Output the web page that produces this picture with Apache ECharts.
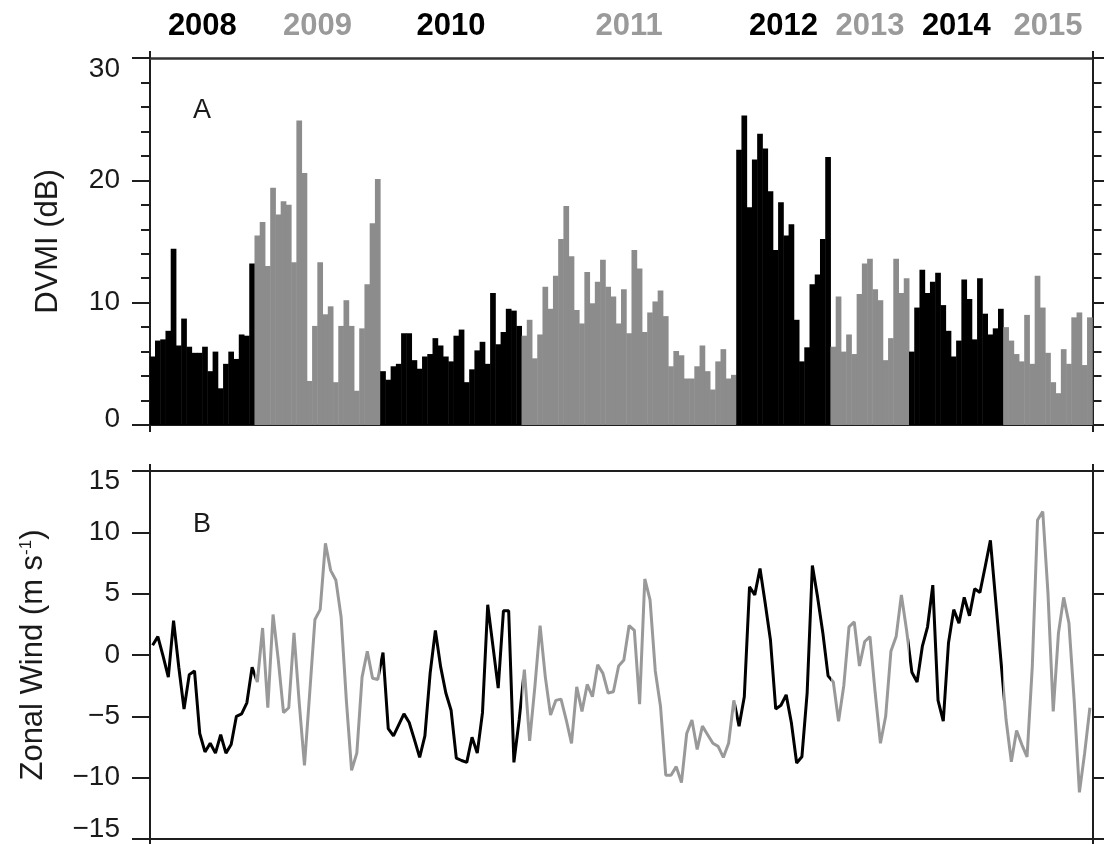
<!DOCTYPE html>
<html><head><meta charset="utf-8">
<script src="https://cdn.jsdelivr.net/npm/echarts@6.0.0/dist/echarts.min.js"></script>
<style>html,body{margin:0;padding:0;background:#fff}#c{width:1104px;height:844px}</style>
</head><body><div id="c"></div>
<script>
// ---- data ----
const years = ['2008','2009','2010','2011','2012','2013','2014','2015'];
const yearCounts = [20, 24, 27, 41, 18, 15, 18, 17];

const dvmi2008 = [5.6, 6.9, 7.0, 7.7, 14.4, 6.5, 8.7, 6.4, 5.9, 5.9, 6.4, 4.4, 6.0, 3.0, 5.0, 6.0, 5.4, 7.4, 7.3, 13.2];
const dvmi2009 = [15.5, 16.6, 13.0, 19.4, 17.2, 18.3, 18.0, 13.3, 24.9, 20.6, 3.6, 8.1, 13.3, 9.05, 9.7, 3.5, 8.1, 10.2, 8.1, 2.8, 7.9, 11.5, 16.5, 20.1];
const dvmi2010 = [4.4, 3.7, 4.8, 5.0, 7.5, 7.5, 5.3, 4.6, 5.6, 5.8, 7.1, 6.5, 5.6, 5.2, 7.3, 7.8, 3.5, 4.55, 6.1, 6.8, 5.0, 10.8, 6.6, 7.6, 9.5, 9.35, 8.1];
const dvmi2011 = [7.3, 8.6, 5.45, 7.4, 11.3, 9.5, 12.2, 15.2, 17.9, 13.8, 9.4, 8.3, 12.5, 9.95, 11.7, 13.5, 11.3, 10.5, 8.3, 11.1, 7.5, 14.3, 12.8, 7.6, 9.2, 10.1, 11.0, 8.9, 4.8, 6.05, 5.7, 3.8, 3.8, 4.8, 6.5, 4.4, 2.9, 5.2, 6.2, 3.8, 4.1];
const dvmi2012 = [22.5, 25.3, 17.8, 21.7, 23.8, 22.6, 19.1, 14.3, 18.2, 15.5, 16.4, 8.6, 5.2, 6.35, 11.5, 12.3, 15.2, 21.9];
const dvmi2013 = [6.4, 10.5, 6.0, 7.4, 5.8, 10.7, 13.2, 13.6, 11.1, 10.2, 5.3, 7.1, 13.6, 10.8, 12.0];
const dvmi2014 = [6.0, 9.6, 12.7, 10.8, 11.7, 12.45, 9.8, 7.7, 5.6, 6.9, 11.9, 10.3, 7.0, 12.0, 9.1, 7.4, 7.9, 9.5];
const dvmi2015 = [8.0, 6.9, 5.8, 5.2, 9.0, 5.0, 12.2, 9.6, 5.9, 3.5, 2.6, 6.2, 5.0, 8.8, 9.2, 4.9, 8.8];

const wind2008 = [0.8, 1.5, -0.1, -1.8, 2.8, -1.0, -4.4, -1.6, -1.3, -6.4, -7.9, -7.2, -8.0, -6.5, -8.0, -7.3, -5.0, -4.8, -3.9, -1.0];
const wind2009 = [-2.2, 2.2, -4.3, 3.3, -0.4, -4.7, -4.3, 1.8, -3.9, -9.0, -3.1, 2.9, 3.7, 9.1, 6.9, 6.1, 3.1, -3.7, -9.4, -8.0, -1.8, 0.3, -1.9, -2.0];
const wind2010 = [0.2, -6.0, -6.6, -5.7, -4.8, -5.5, -6.9, -8.35, -6.6, -1.5, 2.0, -0.95, -3.1, -4.5, -8.4, -8.6, -8.75, -6.7, -8.0, -4.7, 4.1, 0.7, -2.7, 3.6, 3.6, -8.75, -5.3];
const wind2011 = [-1.2, -7.0, -2.6, 2.4, -1.8, -4.9, -3.7, -3.6, -5.3, -7.2, -2.6, -4.6, -2.4, -3.4, -0.8, -1.5, -3.1, -3.0, -0.9, -0.4, 2.4, 2.0, -4.0, 6.2, 4.5, -1.3, -4.2, -9.8, -9.8, -9.1, -10.4, -6.4, -5.3, -7.7, -5.8, -6.5, -7.2, -7.45, -8.35, -7.2, -3.7];
const wind2012 = [-5.8, -3.4, 5.55, 4.9, 7.05, 4.2, 1.2, -4.4, -4.1, -3.25, -5.55, -8.8, -8.3, -3.1, 7.3, 4.7, 1.8, -1.7];
const wind2013 = [-2.2, -5.4, -2.5, 2.3, 2.7, -0.9, 1.1, 1.5, -3.1, -7.2, -5.0, 0.3, 1.5, 4.9, 2.0];
const wind2014 = [-1.4, -2.2, 0.7, 2.3, 5.7, -3.7, -5.4, 1.0, 3.7, 2.6, 4.7, 3.2, 5.4, 5.1, 7.2, 9.35, 4.5, -0.4];
const wind2015 = [-5.3, -8.7, -6.15, -7.3, -8.3, -0.95, 11.0, 11.7, 5.0, -4.6, 1.8, 4.7, 2.6, -3.7, -11.2, -8.0, -4.3];

const dvmiTickLabels = [0, 10, 20, 30];
const windTickLabels = [-15, -10, -5, 0, 5, 10, 15];

// ---- build ----
const dvmi = [].concat(dvmi2008, dvmi2009, dvmi2010, dvmi2011, dvmi2012, dvmi2013, dvmi2014, dvmi2015);
const wind = [].concat(wind2008, wind2009, wind2010, wind2011, wind2012, wind2013, wind2014, wind2015);
const N = dvmi.length;

const segs = [];
let s0 = 0;
yearCounts.forEach((n, k) => { segs.push({ year: years[k], start: s0, end: s0 + n, center: s0 + (n - 1) / 2, k }); s0 += n; });

const BLACK = '#000000', BAR_GRAY = '#8c8c8c', LINE_GRAY = '#999999', TXT_GRAY = '#9a9a9a';
const FONT = '"Liberation Sans", Arial, Helvetica, sans-serif';
const AX = '#1e1e1e';
const XMIN = -0.5, XMAX = N - 0.5;

function fmtNum(v) { return v < 0 ? '\u2212' + (-v) : String(v); }

function xAx(grid, pos, withYears) {
  const ax = {
    type: 'value', gridIndex: grid, position: pos, min: XMIN, max: XMAX,
    axisLine: { show: true, onZero: false, lineStyle: { color: AX, width: 2 } },
    axisTick: { show: true, customValues: [XMIN, XMAX], length: 7, lineStyle: { color: AX, width: 2 } },
    axisLabel: { show: false },
    splitLine: { show: false }
  };
  if (withYears) {
    ax.axisLine.lineStyle = { color: '#333', width: 2.5 };
    ax.axisLabel = {
      show: true, customValues: segs.map(g => g.center), margin: 16,
      formatter: v => { const g = segs.find(q => Math.abs(q.center - v) < 1e-6); return g ? '{y' + (g.k % 2) + '|' + g.year + '}' : ''; },
      rich: {
        y0: { color: '#000', fontWeight: 'bold', fontSize: 31, fontFamily: FONT },
        y1: { color: TXT_GRAY, fontWeight: 'bold', fontSize: 31, fontFamily: FONT }
      }
    };
  }
  return ax;
}

function yAx(grid, pos, ticks, name, gap, minorSplit, shiftHi, shiftLo) {
  const min = ticks[0], max = ticks[ticks.length - 1], step = ticks[1] - ticks[0];
  const base = { fontSize: 28, fontFamily: FONT, color: '#1a1a1a' };
  return {
    type: 'value', gridIndex: grid, position: pos, min, max, interval: step,
    axisLine: { show: true, onZero: false, lineStyle: { color: AX, width: 2 } },
    axisTick: { show: true, length: 18, lineStyle: { color: AX, width: 2 } },
    minorTick: minorSplit ? { show: true, splitNumber: minorSplit, length: 9, lineStyle: { color: AX, width: 2 } } : { show: false },
    splitLine: { show: false }, minorSplitLine: { show: false },
    axisLabel: pos === 'left' ? {
      show: true, margin: 30, ...base,
      formatter: v => v === max ? '{hi|' + fmtNum(v) + '}' : (v === min ? '{lo|' + fmtNum(v) + '}' : fmtNum(v)),
      rich: { hi: { ...base, padding: [shiftHi, 0, 0, 0] }, lo: { ...base, padding: [0, 0, shiftLo, 0] } }
    } : { show: false },
    name: pos === 'left' ? name : '', nameLocation: 'middle', nameGap: gap,
    nameTextStyle: { fontSize: 31, fontFamily: FONT, color: '#1a1a1a',
      rich: { sup: { fontSize: 17, fontFamily: FONT, color: '#1a1a1a', verticalAlign: 'top', padding: [0, 0, 14, 0] } } }
  };
}

const chart = echarts.init(document.getElementById('c'), null, { renderer: 'canvas' });
chart.setOption({
  animation: false,
  backgroundColor: '#fff',
  grid: [
    { left: 150, right: 11.5, top: 58, height: 367, containLabel: false },
    { left: 150, right: 11.5, top: 471, height: 368, containLabel: false }
  ],
  xAxis: [xAx(0, 'bottom', false), xAx(0, 'top', true), xAx(1, 'bottom', false), xAx(1, 'top', false)],
  yAxis: [
    yAx(0, 'left', dvmiTickLabels, 'DVMI (dB)', 86, 5, 22, 12),
    yAx(0, 'right', dvmiTickLabels, '', 0, 5, 0, 0),
    yAx(1, 'left', windTickLabels, 'Zonal Wind (m s{sup|-1})', 101, 0, 20, 20),
    yAx(1, 'right', windTickLabels, '', 0, 0, 0, 0)
  ],
  visualMap: [
    { type: 'piecewise', show: false, seriesIndex: 0, dimension: 0,
      pieces: segs.map(g => ({ gte: g.start - 0.5, lt: g.end - 0.5, color: g.k % 2 ? BAR_GRAY : BLACK })) },
    { type: 'piecewise', show: false, seriesIndex: 1, dimension: 0,
      pieces: segs.map(g => ({ gte: g.start - 0.5, lt: g.end - 0.5, color: g.k % 2 ? LINE_GRAY : BLACK })) }
  ],
  series: [
    { type: 'bar', xAxisIndex: 0, yAxisIndex: 0, barWidth: 5.7, clip: true,
      data: dvmi.map((v, i) => [i, v]), itemStyle: { borderWidth: 0 } },
    { type: 'line', xAxisIndex: 2, yAxisIndex: 2, symbol: 'none', clip: true,
      data: wind.map((v, i) => [i, v]), lineStyle: { width: 3 } }
  ],
  graphic: [
    { type: 'text', x: 193, y: 111, style: { text: 'A', fontSize: 27, fontFamily: FONT, fill: '#1a1a1a', verticalAlign: 'middle', align: 'left' } },
    { type: 'text', x: 193, y: 525, style: { text: 'B', fontSize: 27, fontFamily: FONT, fill: '#1a1a1a', verticalAlign: 'middle', align: 'left' } }
  ]
});
</script></body></html>
